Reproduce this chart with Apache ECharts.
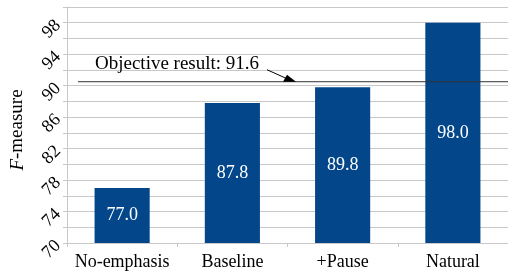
<!DOCTYPE html>
<html>
<head>
<meta charset="utf-8">
<script src="https://cdn.jsdelivr.net/npm/echarts@6/dist/echarts.min.js"></script>
<style>
  html, body { margin: 0; padding: 0; background: #fff; }
  #chart { width: 508px; height: 275px; }
</style>
</head>
<body>
<div id="chart"></div>
<script>
// data
const categories = ['No-emphasis', 'Baseline', '+Pause', 'Natural']
const fMeasure = [77.0, 87.8, 89.8, 98.0]
const yTickLabels = [70, 74, 78, 82, 86, 90, 94, 98]
const objectiveText = 'Objective result: 91.6'
const objectiveLineAt = 90.5 // where the line sits in the picture

const font = 'Liberation Serif'
const barColor = '#03478a'
const gridColor = '#c8c8c8'

const chart = echarts.init(document.getElementById('chart'))

const option = {
  animation: false,
  textStyle: { fontFamily: font },
  grid: {
    left: 65,
    top: 7,
    bottom: 32,
    width: 448
  },
  xAxis: {
    type: 'category',
    data: categories,
    axisLine: { lineStyle: { color: gridColor, width: 1 } },
    axisTick: { show: true, length: 4, lineStyle: { color: gridColor } },
    axisLabel: { interval: 0, color: '#000', fontFamily: font, fontSize: 18, margin: 10 }
  },
  yAxis: {
    type: 'value',
    min: 70,
    max: 100,
    interval: 2,
    name: '{i|F}-measure',
    nameLocation: 'middle',
    nameRotate: 90,
    nameGap: 40,
    nameTextStyle: {
      color: '#000',
      fontFamily: font,
      fontSize: 19,
      padding: [0, 10, 0, 0],
      rich: {
        i: { fontStyle: 'italic', fontFamily: font, fontSize: 19, color: '#000' }
      }
    },
    axisLine: { show: true, lineStyle: { color: gridColor } },
    axisTick: { show: true, length: 4, lineStyle: { color: gridColor } },
    splitLine: { lineStyle: { color: gridColor, width: 1 } },
    axisLabel: {
      rotate: 45,
      margin: 9,
      color: '#000',
      fontFamily: font,
      fontSize: 18,
      formatter: (v) => (yTickLabels.indexOf(v) >= 0 ? String(v) : '')
    }
  },
  series: [
    {
      type: 'bar',
      data: fMeasure,
      barWidth: '50%',
      itemStyle: { color: barColor },
      label: {
        show: true,
        position: 'inside',
        color: '#fff',
        fontFamily: font,
        fontSize: 18,
        formatter: (p) => p.value.toFixed(1)
      }
    }
  ]
}

chart.setOption(option)

// objective line + annotation
const lineY = chart.convertToPixel({ yAxisIndex: 0 }, objectiveLineAt)
chart.setOption({
  graphic: [
    {
      type: 'line',
      shape: { x1: 78, y1: lineY, x2: 508, y2: lineY },
      style: { stroke: '#333', lineWidth: 1 },
      z: 100
    },
    {
      type: 'text',
      x: 95,
      y: lineY - 8,
      style: {
        text: objectiveText,
        font: '19px "' + font + '"',
        fill: '#000',
        textVerticalAlign: 'bottom'
      },
      z: 100
    },
    {
      type: 'line',
      shape: { x1: 267, y1: lineY - 12, x2: 287, y2: lineY - 3 },
      style: { stroke: '#000', lineWidth: 1 },
      z: 100
    },
    {
      type: 'polygon',
      shape: { points: [[296, lineY], [283, lineY], [287, lineY - 7]] },
      style: { fill: '#000' },
      z: 100
    }
  ]
})

window.addEventListener('resize', () => chart.resize())
</script>
</body>
</html>
